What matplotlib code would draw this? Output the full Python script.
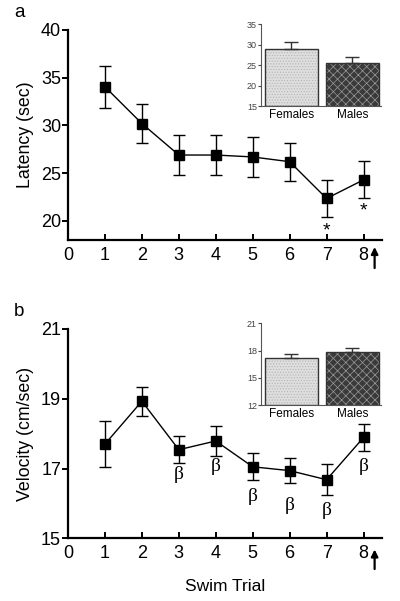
import matplotlib
matplotlib.use("Agg")
import matplotlib.pyplot as plt

plt.rcParams["font.family"] = ["Liberation Sans", "DejaVu Sans"]
plt.rcParams["hatch.linewidth"] = 0.5

trials = [1, 2, 3, 4, 5, 6, 7, 8]
latency = [34.05, 30.2, 26.9, 26.9, 26.7, 26.2, 22.35, 24.3]
latency_err = [2.2, 2.05, 2.1, 2.1, 2.05, 2.0, 1.95, 1.95]
latency_star = [7, 8]
latency_star_y = [18.9, 21.0]

velocity = [17.7, 18.93, 17.54, 17.79, 17.05, 16.94, 16.68, 17.89]
velocity_err = [0.65, 0.41, 0.39, 0.42, 0.39, 0.35, 0.44, 0.40]
beta_trials = [3, 4, 5, 6, 7, 8]
beta_y = [16.83, 17.05, 16.2, 15.93, 15.8, 17.06]

sexes = ["Females", "Males"]
sex_latency = [29.0, 25.55]
sex_latency_err = [1.6, 1.45]
sex_velocity = [17.22, 17.81]
sex_velocity_err = [0.44, 0.44]

fig = plt.figure(figsize=(4.0, 6.01), dpi=100)


def main_panel(rect, y, err, ylim, yticks, ylabel, arrow_y):
    ax = fig.add_axes(rect)
    ax.errorbar(trials, y, yerr=err, fmt="s-", color="black", ms=7,
                lw=1.0, elinewidth=1.0, capsize=4, capthick=1.0)
    ax.set_xlim(0, 8.5)
    ax.set_ylim(*ylim)
    ax.set_xticks(range(0, 9))
    ax.set_yticks(yticks)
    for s in ("top", "right"):
        ax.spines[s].set_visible(False)
    for s in ("left", "bottom"):
        ax.spines[s].set_linewidth(1.6)
    ax.spines["left"].set_bounds(ylim[0], yticks[-1])
    ax.tick_params(axis="x", direction="in", length=4, width=1.4,
                   labelsize=13, pad=5)
    ax.tick_params(axis="y", direction="out", length=4, width=1.4,
                   labelsize=13, pad=1)
    ax.set_ylabel(ylabel, fontsize=12.8, labelpad=5)
    ax.annotate("", xy=(8.3, arrow_y[0]), xytext=(8.3, arrow_y[1]),
                xycoords=("data", "axes fraction"),
                textcoords=("data", "axes fraction"),
                arrowprops=dict(arrowstyle="-|>", color="black", lw=1.6,
                                mutation_scale=10),
                annotation_clip=False)
    return ax


def inset_panel(rect, vals, errs, ylim, yticks):
    ax = fig.add_axes(rect)
    base = ylim[0]
    ax.bar([0], [vals[0] - base], bottom=base, width=0.87,
           color="#dedede", edgecolor="#b4b4b4", hatch="......", lw=0)
    ax.bar([1], [vals[1] - base], bottom=base, width=0.87,
           color="#3a3a3a", edgecolor="#9a9a9a", hatch="xxxx", lw=0)
    ax.bar([0, 1], [v - base for v in vals], bottom=base, width=0.87,
           fill=False, edgecolor="#333333", lw=1.0)
    ax.errorbar([0, 1], vals, yerr=[[0, 0], errs], fmt="none",
                ecolor="#333333", elinewidth=1.0, capsize=5, capthick=1.0)
    ax.set_xlim(-0.5, 1.47)
    ax.set_ylim(*ylim)
    ax.set_yticks(yticks)
    ax.set_xticks([0, 1])
    ax.set_xticklabels(sexes, fontsize=8.5)
    for s in ("top", "right"):
        ax.spines[s].set_visible(False)
    for s in ("left", "bottom"):
        ax.spines[s].set_linewidth(0.8)
        ax.spines[s].set_color("#555555")
    ax.tick_params(axis="x", length=0, pad=2)
    ax.tick_params(axis="y", direction="out", length=2, width=0.8,
                   labelsize=6.5, pad=1, colors="#444444")
    return ax


# panel a
ax_a = main_panel([0.17, 0.6007, 0.785, 0.3494], latency, latency_err,
                  (18, 40), [20, 25, 30, 35, 40], "Latency (sec)",
                  (-0.02, -0.147))
for x, yv in zip(latency_star, latency_star_y):
    ax_a.text(x, yv, "*", ha="center", va="center", fontsize=14)
fig.text(0.035, 0.98, "a", fontsize=13.5, ha="left", va="center")

inset_panel([0.6525, 0.8236, 0.30, 0.1364], sex_latency, sex_latency_err,
            (15, 35), [15, 20, 25, 30, 35])

# panel b
ax_b = main_panel([0.17, 0.1043, 0.785, 0.3483], velocity, velocity_err,
                  (15, 21), [15, 17, 19, 21], "Velocity (cm/sec)",
                  (-0.04, -0.16))
for x, yv in zip(beta_trials, beta_y):
    ax_b.text(x, yv, "β", ha="center", va="center", fontsize=14,
              family=["Liberation Serif", "DejaVu Serif"])
ax_b.set_xlabel("Swim Trial", fontsize=12.5, labelpad=12)
fig.text(0.035, 0.482, "b", fontsize=13.5, ha="left", va="center")

inset_panel([0.6525, 0.3256, 0.30, 0.1364], sex_velocity, sex_velocity_err,
            (12, 21), [12, 15, 18, 21])

fig.savefig("out.png", dpi=100)
